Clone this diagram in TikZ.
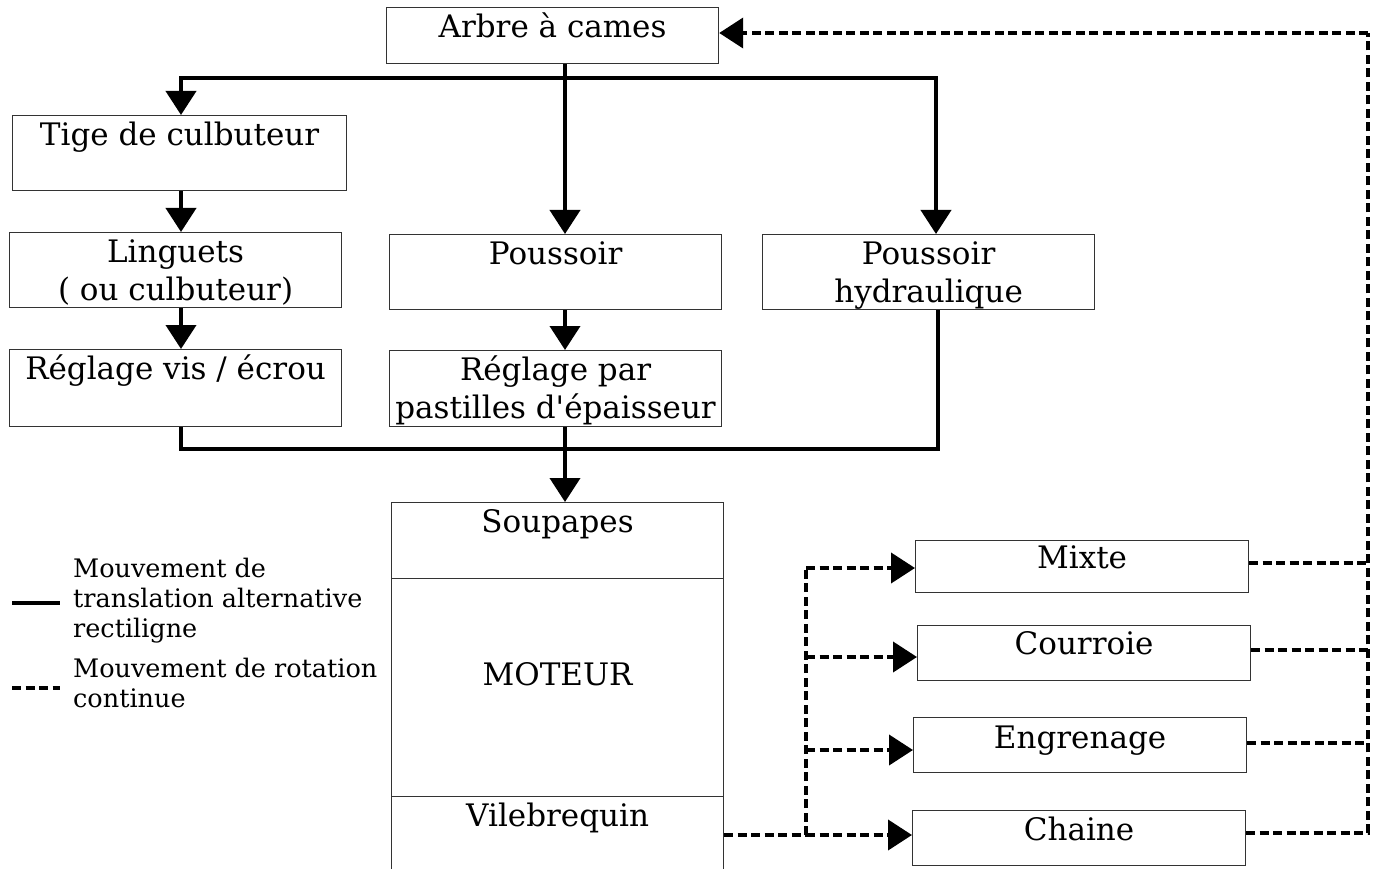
\documentclass[tikz,border=0pt]{standalone}
\usepackage{fontspec}
\setmainfont{DejaVu Serif}[Ligatures=TeXOff]
\usetikzlibrary{arrows.meta}
\newcommand\bxt[4]{\parbox[c][#2pt][t]{#1pt}{\centering\rule{0pt}{#3pt}#4}}
\tikzset{
  box/.style={draw=black!80, line width=1.2pt, rectangle, inner sep=0pt, anchor=north west,
    font=\fontsize{31}{38}\selectfont},
  conn/.style={line width=4pt, black},
  rot/.style={line width=4pt, black, dash pattern=on 9pt off 4.5pt},
  tip/.style={-{Triangle[length=24pt,width=30pt]}},
  legend/.style={anchor=base west, inner sep=0pt, font=\fontsize{25.5}{30}\selectfont}
}
\begin{document}
\begin{tikzpicture}[x=1pt,y=-1pt]
\useasboundingbox (0,0) rectangle (1377,869);
\clip (0,0) rectangle (1377,869);
% boxes
\node[box] (arbre) at (386,7) {\bxt{332}{56}{30}{Arbre à cames}};
\node[box] (tige) at (12,115) {\bxt{334}{75}{30}{Tige de culbuteur}};
\node[box] (ling) at (9,232) {\bxt{332}{75}{30}{Linguets\\( ou culbuteur)}};
\node[box] (pous) at (389,234) {\bxt{332}{75}{30}{Poussoir}};
\node[box] (hyd) at (762,234) {\bxt{332}{75}{30}{Poussoir\\hydraulique}};
\node[box] (regv) at (9,349) {\bxt{332}{77}{30}{Réglage vis / écrou}};
\node[box] (regp) at (389,350) {\bxt{332}{76}{30}{Réglage par\\pastilles d'épaisseur}};
\node[box] (soup) at (391,502) {\bxt{332}{76}{30}{Soupapes}};
\node[box] (mot) at (391,578) {\bxt{332}{218}{107}{MOTEUR}};
\node[box] (vil) at (391,796) {\bxt{332}{90}{30}{Vilebrequin}};
\node[box] (mix) at (915,540) {\bxt{333}{52}{28}{Mixte}};
\node[box] (cour) at (917,625) {\bxt{333}{55}{29}{Courroie}};
\node[box] (eng) at (913,717) {\bxt{333}{55}{31}{Engrenage}};
\node[box] (ch) at (912,810) {\bxt{333}{55}{30}{Chaine}};
% coordinates
\coordinate (xa) at (181,0);
\coordinate (xb) at (565,0);
\coordinate (xc) at (936,0);
\coordinate (b1) at (181,78);
\coordinate (b2) at (936,78);
\coordinate (l1) at (181,449);
\coordinate (l2) at (938,449);
\coordinate (xh) at (938,0);
% solid connectors
\draw[conn, line cap=rect] (b1) -- (b2);
\draw[conn, tip] (arbre.south -| xb) -- (pous.north -| xb);
\draw[conn, tip] (b1) -- (tige.north -| xa);
\draw[conn, tip] (b2) -- (hyd.north -| xc);
\draw[conn, tip] (tige.south -| xa) -- (ling.north -| xa);
\draw[conn, tip] (ling.south -| xa) -- (regv.north -| xa);
\draw[conn, tip] (pous.south -| xb) -- (regp.north -| xb);
\draw[conn, line join=miter] (regv.south -| xa) -- (l1) -- (l2) -- (hyd.south -| xh);
\draw[conn, tip] (regp.south -| xb) -- (soup.north -| xb);
% dashed connectors
\coordinate (d0) at (806,835);
\coordinate (xd) at (806,0);
\coordinate (xr) at (1368,0);
\coordinate (yv) at (0,835);
\coordinate (ym) at (0,568);
\coordinate (yc) at (0,657);
\coordinate (ye) at (0,750);
\coordinate (rtop) at (1368,33);
\draw[rot] (vil.east |- yv) -- (d0);
\draw[rot, tip] (d0) -- (ch.west |- yv);
\draw[rot] (d0) -- (xd |- ym);
\draw[rot, tip] (xd |- ym) -- (mix.west |- ym);
\draw[rot, tip] (xd |- yc) -- (cour.west |- yc);
\draw[rot, tip] (xd |- ye) -- (eng.west |- ye);
\coordinate (ry1) at (0,563);
\coordinate (ry2) at (0,650);
\coordinate (ry3) at (0,743);
\coordinate (ry4) at (0,833);
\draw[rot] (mix.east |- ry1) -- (xr |- ry1);
\draw[rot] (cour.east |- ry2) -- (xr |- ry2);
\draw[rot] (eng.east |- ry3) -- (xr |- ry3);
\draw[rot] (ch.east |- ry4) -- (xr |- ry4) -- (rtop);
\draw[rot, tip] (rtop) -- (arbre.east |- rtop);
% legend
\coordinate (g1) at (12,603);
\coordinate (g2) at (60,603);
\coordinate (g3) at (12,688);
\coordinate (g4) at (60,688);
\draw[conn] (g1) -- (g2);
\draw[rot] (g3) -- (g4);
\node[legend] (lt1) at (73,577) {\parbox[t]{330pt}{\raggedright Mouvement de\\translation alternative\\rectiligne}};
\node[legend] (lt2) at (73,677) {\parbox[t]{330pt}{\raggedright Mouvement de rotation\\continue}};
\end{tikzpicture}
\end{document}
